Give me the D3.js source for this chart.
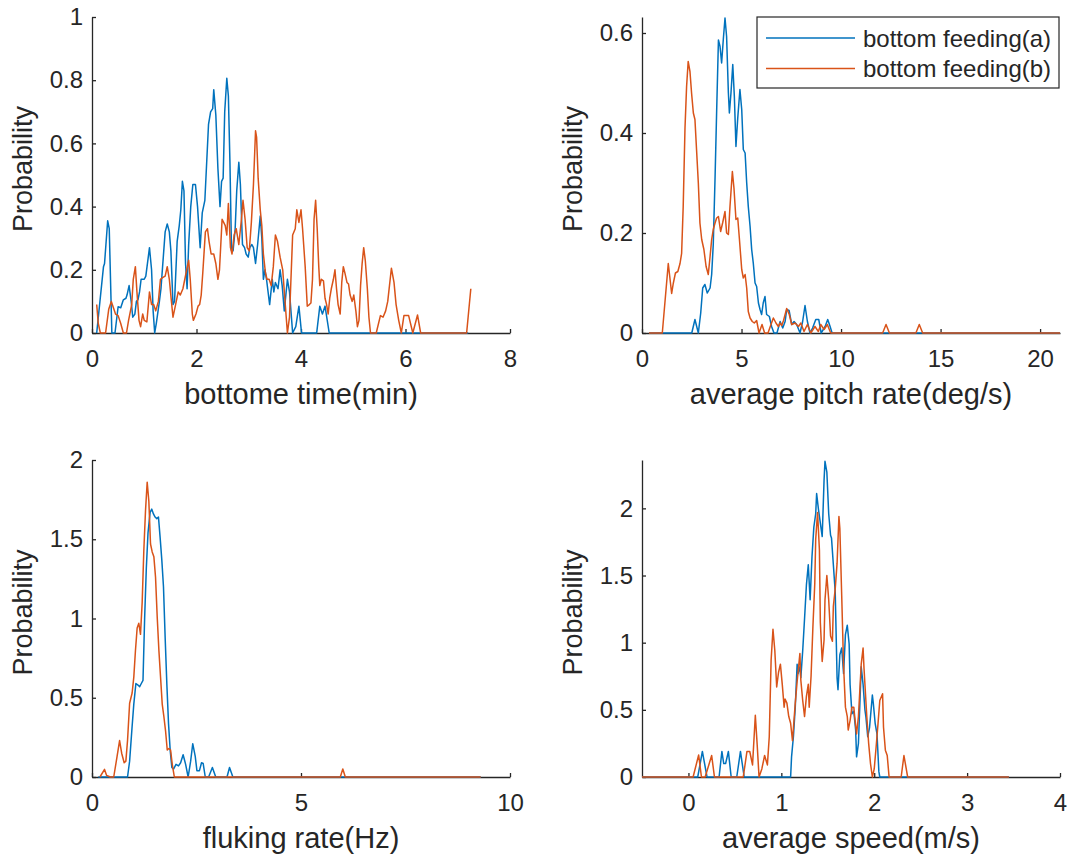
<!DOCTYPE html>
<html>
<head>
<meta charset="utf-8">
<script src="https://cdn.jsdelivr.net/npm/d3@7"></script>
<style>
  body { margin: 0; background: #fff; }
  text { font-family: "Liberation Sans", Arial, sans-serif; fill: #262626; }
</style>
</head>
<body>
<div id="chart"></div>
<script>
// values, as [x, probability] pairs
var timeA = [[0.09,0],[0.22,0.21],[0.24,0.22],[0.30,0.355],[0.33,0.33],[0.38,0],[0.44,0],[0.50,0.083],[0.55,0.08],[0.60,0.105],[0.65,0.11],[0.67,0.12],[0.71,0.15],[0.75,0.10],[0.78,0.05],[0.82,0.06],[0.85,0.10],[0.88,0.105],[0.91,0.13],[0.94,0.17],[1.0,0.17],[1.03,0.18],[1.10,0.27],[1.14,0.20],[1.17,0.07],[1.20,0],[1.23,0.03],[1.29,0.10],[1.32,0.14],[1.40,0.32],[1.44,0.345],[1.48,0.32],[1.51,0.26],[1.55,0.09],[1.58,0.10],[1.63,0.29],[1.67,0.34],[1.70,0.39],[1.73,0.48],[1.76,0.45],[1.79,0.22],[1.82,0.14],[1.85,0.28],[1.89,0.40],[1.93,0.47],[1.98,0.47],[2.02,0.40],[2.07,0.27],[2.11,0.38],[2.16,0.42],[2.23,0.66],[2.27,0.70],[2.31,0.71],[2.33,0.77],[2.37,0.69],[2.41,0.52],[2.45,0.40],[2.48,0.48],[2.51,0.49],[2.54,0.70],[2.58,0.806],[2.61,0.75],[2.64,0.54],[2.67,0.26],[2.70,0.26],[2.74,0.33],[2.77,0.45],[2.81,0.54],[2.84,0.47],[2.88,0.28],[2.92,0.27],[2.95,0.25],[2.99,0.24],[3.02,0.27],[3.06,0.28],[3.09,0.27],[3.13,0.22],[3.17,0.28],[3.22,0.37],[3.25,0.30],[3.28,0.17],[3.31,0.20],[3.34,0.17],[3.40,0.09],[3.45,0.17],[3.48,0.13],[3.51,0.16],[3.56,0.14],[3.60,0.20],[3.64,0.15],[3.68,0.07],[3.74,0.17],[3.78,0.13],[3.84,0],[3.90,0.02],[3.96,0.085],[4.01,0],[4.30,0],[4.36,0.085],[4.41,0.06],[4.46,0.085],[4.54,0],[7.2,0]];
var timeB = [[0.09,0.09],[0.12,0.03],[0.16,0],[0.26,0],[0.32,0.075],[0.37,0.10],[0.41,0.08],[0.45,0.06],[0.50,0.055],[0.55,0.03],[0.60,0],[0.66,0],[0.70,0.04],[0.76,0.09],[0.79,0.17],[0.83,0.21],[0.86,0.13],[0.90,0.04],[0.93,0.02],[0.97,0.06],[1.0,0.04],[1.05,0.035],[1.10,0.13],[1.14,0.09],[1.18,0.09],[1.22,0.07],[1.27,0.10],[1.31,0.17],[1.35,0.175],[1.40,0.18],[1.44,0.21],[1.48,0.17],[1.52,0.10],[1.55,0.05],[1.60,0.09],[1.65,0.13],[1.69,0.12],[1.74,0.14],[1.80,0.19],[1.85,0.23],[1.88,0.17],[1.92,0.06],[1.94,0.04],[1.99,0.06],[2.03,0.085],[2.06,0.09],[2.09,0.12],[2.12,0.19],[2.17,0.32],[2.21,0.33],[2.24,0.29],[2.28,0.25],[2.33,0.25],[2.37,0.22],[2.41,0.17],[2.44,0.20],[2.49,0.36],[2.52,0.35],[2.55,0.34],[2.58,0.31],[2.61,0.41],[2.65,0.27],[2.68,0.25],[2.72,0.31],[2.76,0.33],[2.81,0.28],[2.86,0.36],[2.89,0.42],[2.93,0.36],[2.97,0.27],[3.01,0.26],[3.05,0.35],[3.09,0.47],[3.13,0.64],[3.15,0.62],[3.18,0.49],[3.22,0.39],[3.25,0.34],[3.28,0.25],[3.32,0.19],[3.35,0.17],[3.39,0.17],[3.43,0.15],[3.47,0.21],[3.51,0.31],[3.55,0.29],[3.60,0.24],[3.65,0.20],[3.69,0.11],[3.74,0],[3.78,0.05],[3.84,0.31],[3.89,0.33],[3.92,0.39],[3.96,0.35],[4.0,0.39],[4.03,0.33],[4.08,0.21],[4.12,0.085],[4.16,0.09],[4.19,0.095],[4.22,0.17],[4.25,0.36],[4.28,0.42],[4.31,0.33],[4.34,0.21],[4.36,0.15],[4.39,0.17],[4.43,0.165],[4.46,0.11],[4.49,0.09],[4.52,0.06],[4.55,0.11],[4.58,0.14],[4.62,0.17],[4.65,0.20],[4.68,0.14],[4.71,0.09],[4.75,0.06],[4.78,0.16],[4.81,0.21],[4.84,0.19],[4.88,0.16],[4.91,0.155],[4.94,0.12],[4.98,0.10],[5.01,0.12],[5.05,0.07],[5.08,0.02],[5.11,0.04],[5.14,0.15],[5.17,0.22],[5.20,0.27],[5.23,0.23],[5.27,0.14],[5.30,0.05],[5.33,0],[5.44,0],[5.52,0.055],[5.57,0.05],[5.62,0.07],[5.66,0.10],[5.73,0.205],[5.78,0.16],[5.82,0.09],[5.87,0.04],[5.92,0],[5.97,0.055],[6.01,0.055],[6.06,0.055],[6.14,0],[6.23,0.057],[6.29,0],[7.17,0],[7.25,0.14]];

var pitchA = [[0.35,0],[2.5,0],[2.66,0.027],[2.83,0],[2.95,0.04],[3.05,0.09],[3.16,0.097],[3.28,0.08],[3.42,0.09],[3.50,0.117],[3.58,0.177],[3.67,0.31],[3.75,0.443],[3.84,0.586],[3.92,0.573],[4.0,0.54],[4.09,0.59],[4.17,0.63],[4.25,0.593],[4.34,0.48],[4.39,0.44],[4.47,0.48],[4.56,0.537],[4.64,0.473],[4.72,0.373],[4.81,0.43],[4.92,0.487],[5.01,0.447],[5.09,0.367],[5.18,0.36],[5.26,0.30],[5.34,0.253],[5.43,0.213],[5.51,0.167],[5.59,0.14],[5.68,0.10],[5.76,0.093],[5.85,0.06],[5.93,0.047],[6.01,0.037],[6.09,0.06],[6.18,0.073],[6.26,0.037],[6.40,0.033],[6.51,0.013],[6.63,0],[6.78,0],[6.94,0.023],[7.07,0.01],[7.19,0.023],[7.27,0.047],[7.39,0.045],[7.52,0.017],[7.64,0.023],[7.77,0.017],[7.94,0],[8.07,0.023],[8.19,0.055],[8.31,0.023],[8.44,0],[8.57,0.01],[8.73,0.027],[8.88,0.027],[9.0,0],[9.2,0.013],[9.33,0.027],[9.45,0.013],[9.55,0],[21,0]];
var pitchB = [[0.35,0],[1.02,0],[1.32,0.139],[1.49,0.079],[1.57,0.099],[1.68,0.12],[1.80,0.123],[1.91,0.139],[1.99,0.159],[2.07,0.253],[2.16,0.41],[2.24,0.493],[2.32,0.543],[2.41,0.523],[2.49,0.48],[2.58,0.44],[2.66,0.427],[2.74,0.367],[2.83,0.30],[2.91,0.22],[3.0,0.187],[3.11,0.167],[3.22,0.133],[3.33,0.117],[3.42,0.153],[3.50,0.187],[3.58,0.207],[3.67,0.22],[3.75,0.23],[3.84,0.233],[3.95,0.203],[4.05,0.22],[4.17,0.243],[4.25,0.20],[4.34,0.197],[4.42,0.253],[4.54,0.323],[4.62,0.29],[4.72,0.227],[4.81,0.23],[4.89,0.19],[5.01,0.127],[5.09,0.11],[5.18,0.117],[5.26,0.09],[5.34,0.043],[5.43,0.03],[5.54,0.023],[5.64,0.02],[5.76,0.025],[5.88,0],[6.03,0.017],[6.16,0],[6.33,0],[6.48,0.017],[6.6,0.03],[6.73,0.02],[6.85,0.013],[6.93,0.02],[7.02,0.015],[7.11,0.025],[7.27,0.049],[7.4,0.037],[7.52,0.017],[7.69,0.02],[7.86,0.013],[7.98,0.02],[8.14,0.003],[8.31,0.017],[8.48,0],[8.69,0.013],[8.86,0.003],[8.98,0.017],[9.15,0.007],[9.31,0.017],[9.48,0],[12.09,0],[12.26,0.017],[12.43,0],[13.76,0],[13.93,0.017],[14.1,0],[21,0]];

var flukeA = [[0.15,0],[0.85,0],[0.90,0.10],[0.96,0.32],[1.0,0.46],[1.05,0.59],[1.10,0.58],[1.14,0.57],[1.18,0.59],[1.22,0.61],[1.26,1.01],[1.30,1.32],[1.34,1.54],[1.39,1.67],[1.43,1.69],[1.47,1.66],[1.51,1.64],[1.55,1.63],[1.59,1.64],[1.63,1.51],[1.67,1.37],[1.71,1.20],[1.75,0.88],[1.79,0.59],[1.83,0.34],[1.87,0.17],[1.91,0.06],[1.95,0.05],[2.01,0.08],[2.07,0.07],[2.12,0.09],[2.18,0.14],[2.24,0.08],[2.30,0],[2.36,0.10],[2.41,0.21],[2.47,0.13],[2.51,0.04],[2.57,0.04],[2.62,0.09],[2.66,0.085],[2.71,0],[2.79,0],[2.88,0.06],[2.96,0],[3.23,0],[3.29,0.06],[3.37,0],[9.3,0]];
var flukeB = [[0.19,0],[0.30,0.048],[0.35,0.01],[0.44,0],[0.52,0],[0.60,0.13],[0.66,0.23],[0.71,0.15],[0.77,0.09],[0.81,0.10],[0.85,0.23],[0.90,0.465],[0.96,0.53],[1.0,0.63],[1.04,0.80],[1.08,0.94],[1.12,0.97],[1.16,0.90],[1.20,1.10],[1.24,1.43],[1.28,1.68],[1.32,1.86],[1.36,1.74],[1.40,1.47],[1.44,1.42],[1.48,1.39],[1.52,1.26],[1.56,1.01],[1.60,0.80],[1.64,0.63],[1.68,0.46],[1.72,0.38],[1.76,0.29],[1.80,0.17],[1.84,0.18],[1.88,0.17],[1.92,0.08],[1.97,0],[5.94,0],[6.0,0.05],[6.06,0],[9.3,0]];

var speedA = [[-0.5,0],[0.10,0],[0.15,0.19],[0.20,0],[0.33,0],[0.36,0.19],[0.38,0.10],[0.40,0.10],[0.43,0.19],[0.46,0],[0.52,0],[0.56,0.19],[0.60,0],[1.10,0],[1.11,0.15],[1.13,0.30],[1.15,0.52],[1.17,0.84],[1.18,0.77],[1.20,0.82],[1.21,0.74],[1.23,0.94],[1.25,1.18],[1.27,1.43],[1.29,1.58],[1.31,1.32],[1.33,1.64],[1.35,1.86],[1.37,1.96],[1.38,2.11],[1.40,1.99],[1.42,1.89],[1.44,1.79],[1.46,2.21],[1.47,2.35],[1.49,2.27],[1.51,1.96],[1.53,1.80],[1.54,1.78],[1.56,1.58],[1.58,1.38],[1.60,0.74],[1.61,0.65],[1.63,0.91],[1.65,0.96],[1.67,0.77],[1.69,1.06],[1.71,1.13],[1.73,0.99],[1.74,0.69],[1.76,0.47],[1.78,0.49],[1.80,0.35],[1.81,0.15],[1.83,0.25],[1.86,0.82],[1.88,0.69],[1.90,0.50],[1.91,0.45],[1.93,0.30],[1.95,0.37],[1.98,0.61],[1.99,0.55],[2.01,0.40],[2.03,0.32],[2.05,0.04],[2.06,0],[3.45,0]];
var speedB = [[-0.5,0],[0.05,0],[0.11,0.164],[0.14,0],[0.18,0],[0.25,0.16],[0.28,0],[0.59,0],[0.63,0.19],[0.66,0.19],[0.69,0.09],[0.72,0.46],[0.74,0.24],[0.76,0],[0.79,0.06],[0.82,0.16],[0.85,0.09],[0.87,0.30],[0.89,0.87],[0.91,1.10],[0.93,0.94],[0.95,0.67],[0.97,0.78],[0.99,0.84],[1.01,0.69],[1.03,0.52],[1.04,0.58],[1.06,0.55],[1.08,0.45],[1.10,0.40],[1.12,0.27],[1.15,0.55],[1.17,0.71],[1.20,0.92],[1.21,0.72],[1.23,0.57],[1.25,0.45],[1.27,0.60],[1.29,0.69],[1.30,0.52],[1.32,0.75],[1.34,1.12],[1.36,1.44],[1.37,1.77],[1.39,1.97],[1.41,1.69],[1.42,1.15],[1.44,0.86],[1.46,1.02],[1.47,1.32],[1.49,1.50],[1.51,1.32],[1.53,1.05],[1.55,1.01],[1.56,1.27],[1.58,1.40],[1.60,1.59],[1.62,1.94],[1.63,1.85],[1.65,1.35],[1.67,0.83],[1.69,0.52],[1.71,0.45],[1.72,0.35],[1.74,0.42],[1.76,0.52],[1.78,0.52],[1.79,0.45],[1.81,0.32],[1.83,0.45],[1.86,0.84],[1.88,0.96],[1.89,0.81],[1.92,0.45],[1.94,0.25],[1.96,0.10],[1.98,0],[2.00,0.06],[2.02,0.22],[2.04,0.39],[2.06,0.57],[2.09,0.62],[2.10,0.37],[2.12,0.20],[2.14,0.16],[2.16,0],[2.29,0],[2.32,0.16],[2.36,0],[3.45,0]];

// tick labels
var timeTicks = [0, 2, 4, 6, 8];
var timeProbTicks = [0, 0.2, 0.4, 0.6, 0.8, 1];
var pitchTicks = [0, 5, 10, 15, 20];
var pitchProbTicks = [0, 0.2, 0.4, 0.6];
var flukeTicks = [0, 5, 10];
var flukeProbTicks = [0, 0.5, 1, 1.5, 2];
var speedTicks = [0, 1, 2, 3, 4];
var speedProbTicks = [0, 0.5, 1, 1.5, 2];
var seriesNames = ['bottom feeding(a)', 'bottom feeding(b)'];

var width = 1071, height = 861;
var colorA = '#0072bd', colorB = '#d95319', axisColor = '#262626';

var svg = d3.select('#chart')
  .append('svg')
  .attr('width', width)
  .attr('height', height);

var panels = [
  {a: timeA, b: timeB, xDomain: [0, 8], yDomain: [0, 1], xTicks: timeTicks, yTicks: timeProbTicks,
   xLabel: 'bottome time(min)', left: 92, right: 510, top: 17, bottom: 333},
  {a: pitchA, b: pitchB, xDomain: [0, 21], yDomain: [0, 0.632], xTicks: pitchTicks, yTicks: pitchProbTicks,
   xLabel: 'average pitch rate(deg/s)', left: 642, right: 1060, top: 17, bottom: 333, legend: true},
  {a: flukeA, b: flukeB, xDomain: [0, 10], yDomain: [0, 2], xTicks: flukeTicks, yTicks: flukeProbTicks,
   xLabel: 'fluking rate(Hz)', left: 92, right: 510, top: 460, bottom: 777},
  {a: speedA, b: speedB, xDomain: [-0.5, 4], yDomain: [0, 2.36], xTicks: speedTicks, yTicks: speedProbTicks,
   xLabel: 'average speed(m/s)', left: 642, right: 1060, top: 460, bottom: 777}
];

panels.forEach(drawPanel);

function drawPanel(p) {
  var x = d3.scaleLinear().domain(p.xDomain).range([p.left, p.right]);
  var y = d3.scaleLinear().domain(p.yDomain).range([p.bottom, p.top]);
  var fmt = d3.format('~g');

  var g = svg.append('g');

  // axes, ticks pointing inward like matlab
  var xAxis = g.append('g')
    .attr('transform', 'translate(0,' + p.bottom + ')')
    .call(d3.axisBottom(x).tickValues(p.xTicks).tickFormat(fmt)
      .tickSizeInner(-4).tickSizeOuter(0).tickPadding(17));
  var yAxis = g.append('g')
    .attr('transform', 'translate(' + p.left + ',0)')
    .call(d3.axisLeft(y).tickValues(p.yTicks).tickFormat(fmt)
      .tickSizeInner(-4).tickSizeOuter(0).tickPadding(9));

  [xAxis, yAxis].forEach(function (ax) {
    ax.select('.domain').attr('stroke', axisColor).attr('stroke-width', 1.3);
    ax.selectAll('.tick line').attr('stroke', axisColor).attr('stroke-width', 1.3);
    ax.selectAll('.tick text')
      .style('font-family', '"Liberation Sans", Arial, sans-serif')
      .style('font-size', '24px')
      .attr('fill', axisColor);
  });

  g.append('text')
    .attr('x', (p.left + p.right) / 2)
    .attr('y', p.bottom + 71)
    .attr('text-anchor', 'middle')
    .style('font-size', '29px')
    .text(p.xLabel);

  g.append('text')
    .attr('transform', 'translate(' + (p.left - 60) + ',' + ((p.top + p.bottom) / 2 - 6) + ') rotate(-90)')
    .attr('text-anchor', 'middle')
    .style('font-size', '27px')
    .text('Probability');

  var line = d3.line()
    .x(function (d) { return x(d[0]); })
    .y(function (d) { return y(d[1]); });

  g.append('path')
    .datum(p.a)
    .attr('d', line)
    .attr('fill', 'none')
    .attr('stroke', colorA)
    .attr('stroke-width', 1.5)
    .attr('stroke-linejoin', 'round');

  g.append('path')
    .datum(p.b)
    .attr('d', line)
    .attr('fill', 'none')
    .attr('stroke', colorB)
    .attr('stroke-width', 1.5)
    .attr('stroke-linejoin', 'round');

  if (p.legend) drawLegend(g, p);
}

function drawLegend(g, p) {
  var lg = g.append('g').attr('class', 'legend');
  lg.append('rect')
    .attr('x', 757)
    .attr('y', 17)
    .attr('width', p.right - 1 - 757)
    .attr('height', 71)
    .attr('fill', '#fff')
    .attr('stroke', axisColor)
    .attr('stroke-width', 1.2);

  var item = lg.selectAll('.item')
    .data(seriesNames)
    .enter().append('g')
    .attr('class', 'item')
    .attr('transform', function (d, i) { return 'translate(0,' + (38 + i * 30.5) + ')'; });

  item.append('line')
    .attr('x1', 766)
    .attr('x2', 855)
    .attr('stroke', function (d, i) { return i === 0 ? colorA : colorB; })
    .attr('stroke-width', 1.5);

  item.append('text')
    .attr('x', 863)
    .attr('y', 8.5)
    .style('font-size', '24px')
    .text(function (d) { return d; });
}
</script>
</body>
</html>
